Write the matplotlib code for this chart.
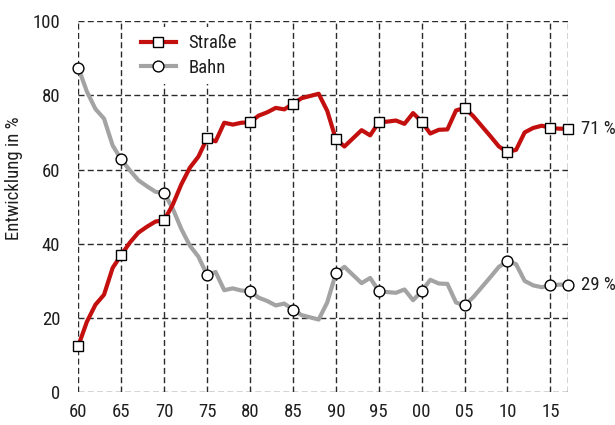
import matplotlib
matplotlib.use("Agg")
import matplotlib.pyplot as plt
from matplotlib import font_manager

years = list(range(1960, 2018))
strasse = [12.5, 19.0, 23.6, 26.3, 33.5, 37.0, 40.3, 43.0, 44.6, 46.0,
           46.3, 50.5, 56.0, 60.5, 63.5, 68.4, 67.6, 72.6, 72.1, 72.6,
           72.7, 74.5, 75.4, 76.6, 76.2, 77.7, 79.2, 79.8, 80.4, 75.8,
           68.2, 66.2, 68.4, 70.6, 69.2, 72.7, 72.9, 73.2, 72.3, 75.2,
           72.9, 69.7, 70.7, 70.8, 75.9, 76.6, 74.4, 71.7, 69.0, 66.2,
           64.7, 65.3, 70.0, 71.2, 71.8, 71.2, 71.0, 71.0]
bahn = [87.4, 81.0, 76.3, 73.7, 66.5, 62.7, 59.8, 57.1, 55.5, 54.0,
        53.7, 49.5, 44.0, 39.5, 36.5, 31.6, 32.4, 27.5, 28.0, 27.4,
        27.3, 25.5, 24.6, 23.4, 23.9, 22.3, 20.8, 20.2, 19.6, 24.2,
        32.0, 33.8, 31.6, 29.4, 30.8, 27.3, 27.0, 26.8, 27.7, 24.8,
        27.2, 30.3, 29.3, 29.2, 24.2, 23.4, 25.6, 28.3, 31.0, 33.8,
        35.3, 34.5, 30.0, 28.8, 28.3, 28.8, 29.0, 29.0]
marker_years = [1960, 1965, 1970, 1975, 1980, 1985, 1990, 1995, 2000,
                2005, 2010, 2015, 2017]
xtick_years = [1960, 1965, 1970, 1975, 1980, 1985, 1990, 1995, 2000,
               2005, 2010, 2015]
xtick_labels = ["60", "65", "70", "75", "80", "85", "90", "95", "00",
                "05", "10", "15"]
yticks = [0, 20, 40, 60, 80, 100]
series_names = ["Straße", "Bahn"]
end_labels = ["71 %", "29 %"]

names = {f.name for f in font_manager.fontManager.ttflist}
fam = "DejaVu Sans"
for cand in ["Liberation Sans Narrow", "Roboto Condensed", "Arial Narrow",
             "Liberation Sans"]:
    if cand in names:
        fam = cand
        break
plt.rcParams["font.family"] = [fam, "DejaVu Sans"]
FS = 13.5
plt.rcParams["font.size"] = FS
txt = "#1e1e1e"

fig = plt.figure(figsize=(6.15, 4.25), dpi=100)
ax = fig.add_axes([0.1273, 0.0769, 0.7956, 0.8737])

mk_idx = [years.index(y) for y in marker_years]

ax.plot(years, strasse, color="#c40f0f", lw=3.0, marker="s", markersize=7.3,
        markerfacecolor="white", markeredgecolor="black", markeredgewidth=1.0,
        markevery=mk_idx, clip_on=False, zorder=4, label=series_names[0],
        solid_joinstyle="round")
ax.plot(years, bahn, color="#a3a3a3", lw=3.0, marker="o", markersize=7.8,
        markerfacecolor="white", markeredgecolor="black", markeredgewidth=1.0,
        markevery=mk_idx, clip_on=False, zorder=3, label=series_names[1],
        solid_joinstyle="round")

ax.set_xlim(1960, 2017)
ax.set_ylim(0, 100)
ax.set_xticks(xtick_years)
ax.set_xticklabels(xtick_labels)
ax.set_xticks([2017], minor=True)
ax.set_yticks(yticks)
for s in ax.spines.values():
    s.set_visible(False)
ax.tick_params(axis="both", which="both", length=0, colors=txt, labelsize=FS)
ax.tick_params(axis="x", pad=8)
ax.tick_params(axis="y", pad=13)
ax.set_axisbelow(True)
ax.grid(True, which="both", color="#2a2a2a", lw=1.0,
        linestyle=(0, (4.3, 2.4)))

ax.set_ylabel("Entwicklung in %", fontsize=FS, color=txt)
ax.yaxis.set_label_coords(-0.112, 0.577)

ax.text(2018.6, strasse[-1], end_labels[0], va="center", ha="left",
        fontsize=FS, color=txt, clip_on=False)
ax.text(2018.6, bahn[-1], end_labels[1], va="center", ha="left",
        fontsize=FS, color=txt, clip_on=False)

leg = ax.legend(loc="upper left", bbox_to_anchor=(0.112, 0.985),
                borderaxespad=0, frameon=True, facecolor="white",
                edgecolor="none", framealpha=1, fancybox=False,
                fontsize=FS, handlelength=1.9, handletextpad=0.65,
                labelspacing=0.35, borderpad=0.4)
for t in leg.get_texts():
    t.set_color(txt)
leg.set_zorder(5)

fig.savefig("out.png", dpi=100)
